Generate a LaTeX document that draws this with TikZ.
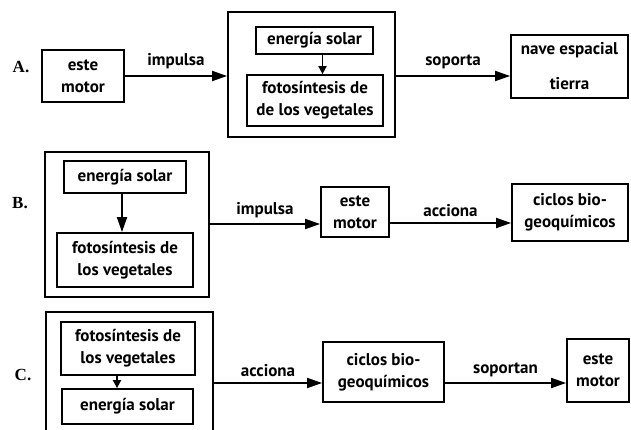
\documentclass[tikz,border=0pt]{standalone}
\usepackage{fontspec}
\setmainfont{PT Sans}
\newfontfamily\labfont{Liberation Serif}
\usetikzlibrary{arrows.meta}
\tikzset{
  bx/.style={draw, line width=1.8pt, inner sep=0pt, align=center,
    font=\fontsize{17}{22}\selectfont\bfseries},
  arr/.style={line width=1.8pt, -{Triangle[length=15pt,width=10pt]}},
  sarr/.style={line width=1.8pt, -{Triangle[length=8pt,width=8pt]}},
  lab/.style={font=\fontsize{17}{20}\selectfont\bfseries, inner sep=0pt},
  row/.style={font=\labfont\fontsize{17}{20}\selectfont\bfseries, inner sep=0pt}
}
\begin{document}
\begin{tikzpicture}[x=1pt,y=-1pt]
\useasboundingbox (0,0) rectangle (631,430);
% Row A
\node[row] (la) at (21,67) {A.};
\node[bx, minimum width=82pt, minimum height=52pt] (amotor) at (83,76) {este\\motor};
\node[bx, minimum width=167pt, minimum height=125pt] (abig) at (311.5,74.5) {};
\node[bx, minimum width=117pt, minimum height=27pt] (asol) at (314.5,40.5) {energía solar};
\node[bx, minimum width=136pt, minimum height=51pt] (afoto) at (315,100.5) {fotosíntesis de\\de los vegetales};
\node[bx, minimum width=117pt, minimum height=63pt, font=\fontsize{17}{35}\selectfont\bfseries] (anave) at (569.5,66.5) {nave espacial\\tierra};
\draw[arr] (amotor.east) -- (amotor.east -| abig.west) node[lab, midway, above=6pt] (limpa) {impulsa};
\draw[arr] (abig.east |- amotor.east) -- (anave.west |- amotor.east) node[lab, midway, above=6pt] (lsopa) {soporta};
\draw[sarr] ([xshift=8pt]asol.south) -- ([xshift=8pt]asol.south |- afoto.north);
% Row B
\node[row] (lb) at (20,203) {B.};
\node[bx, minimum width=164pt, minimum height=145pt] (bbig) at (127,224.5) {};
\node[bx, minimum width=122pt, minimum height=32pt] (bsol) at (125,177) {energía solar};
\node[bx, minimum width=136pt, minimum height=54pt] (bfoto) at (125,260) {fotosíntesis de\\los vegetales};
\node[bx, minimum width=68pt, minimum height=50pt] (bmotor) at (355,212) {este\\motor};
\node[bx, minimum width=116pt, minimum height=57pt] (bciclos) at (570,212.5) {ciclos bio-\\geoquímicos};
\draw[arr] ([xshift=-3pt]bsol.south) -- ([xshift=-3pt]bsol.south |- bfoto.north);
\draw[arr] (bbig.east |- 0,224) -- (bmotor.west |- 0,224) node[lab, midway, above=5pt] (limpb) {impulsa};
\draw[arr] (bmotor.east |- 0,223) -- (bciclos.west |- 0,223) node[lab, midway, above=5pt] (laccb) {acciona};
% Row C
\node[row] (lc) at (23,375) {C.};
\node[bx, minimum width=167pt, minimum height=128pt] (cbig) at (129.5,376) {};
\node[bx, minimum width=134pt, minimum height=53pt] (cfoto) at (128,348.5) {fotosíntesis de\\los vegetales};
\node[bx, minimum width=131pt, minimum height=35pt] (csol) at (127.5,406.5) {energía solar};
\node[bx, minimum width=121pt, minimum height=60pt] (cciclos) at (383.5,372) {ciclos bio-\\geoquímicos};
\node[bx, minimum width=62pt, minimum height=63pt] (cmotor) at (598,370.5) {este\\motor};
\draw[sarr] ([xshift=-11pt]cfoto.south) -- ([xshift=-11pt]cfoto.south |- csol.north);
\draw[arr] (cbig.east |- 0,383) -- (cciclos.west |- 0,383) node[lab, midway, above=5pt] (laccc) {acciona};
\draw[arr] (cciclos.east |- 0,383) -- (cmotor.west |- 0,383) node[lab, midway, above=5pt] (lsopc) {soportan};
\end{tikzpicture}
\end{document}
